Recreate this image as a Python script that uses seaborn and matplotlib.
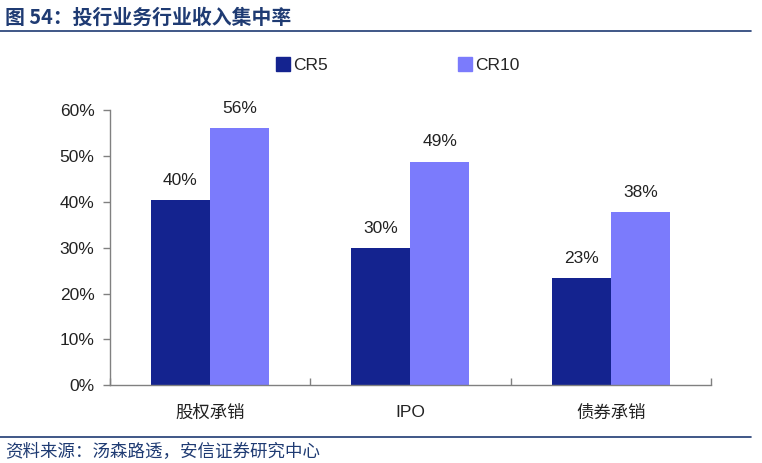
import pandas as pd
import matplotlib
matplotlib.use('Agg')
import matplotlib.pyplot as plt
import seaborn as sns
from matplotlib.ticker import FuncFormatter, FixedLocator
from matplotlib.lines import Line2D

# data
categories = ['股权承销', 'IPO', '债券承销']
series = ['CR5', 'CR10']
cr5 = [40.4, 29.9, 23.3]
cr10 = [56.1, 48.7, 37.7]
labels_cr5 = ['40%', '30%', '23%']
labels_cr10 = ['56%', '49%', '38%']

sns.set_style('white')
plt.rcParams['font.family'] = ['Liberation Sans', 'Noto Sans CJK SC', 'DejaVu Sans']

df = pd.DataFrame({
    'cat': categories * 2,
    'series': ['CR5'] * 3 + ['CR10'] * 3,
    'val': cr5 + cr10,
})

colors = {'CR5': '#14238F', 'CR10': '#7B7BFC'}
title_color = '#1F3B73'

fig = plt.figure(figsize=(7.62, 4.63), dpi=100)
ax = fig.add_axes([0.144, 0.168, 0.789, 0.594])

sns.barplot(data=df, x='cat', y='val', hue='series', hue_order=series,
            palette=colors, width=0.59, saturation=1, ax=ax, legend=False)
for p in ax.patches:
    p.set_edgecolor('none')

# value labels
for cont, labs in zip(ax.containers, [labels_cr5, labels_cr10]):
    ax.bar_label(cont, labels=labs, padding=9, fontsize=12.5, color='#222222')

ax.set_ylim(0, 60)
ax.set_xlim(-0.5, 2.5)
ax.set_yticks(range(0, 61, 10))
ax.yaxis.set_major_formatter(FuncFormatter(lambda v, _: f'{v:.0f}%'))
ax.set_xlabel('')
ax.set_ylabel('')

for s in ['top', 'right']:
    ax.spines[s].set_visible(False)
for s in ['left', 'bottom']:
    ax.spines[s].set_color('#808080')
    ax.spines[s].set_linewidth(1.0)

ax.tick_params(axis='y', direction='out', length=5, color='#808080', width=1.0,
               labelsize=12.5, labelcolor='#222222', left=True, pad=6)
ax.tick_params(axis='x', which='major', length=0, labelsize=12.5, labelcolor='#222222', pad=14)
ax.xaxis.set_minor_locator(FixedLocator([-0.5, 0.5, 1.5, 2.5]))
ax.tick_params(axis='x', which='minor', direction='in', length=5, color='#808080',
               width=1.0, bottom=True)

# legend
handles = [Line2D([0], [0], marker='s', linestyle='none', markersize=10,
                  markerfacecolor=colors[s], markeredgecolor=colors[s]) for s in series]
fig.legend(handles, series, loc='center', bbox_to_anchor=(0.521, 0.858), ncol=2,
           frameon=False, fontsize=12.5, handletextpad=0.1, columnspacing=7.4,
           handlelength=1.0)

# title and footer
fig.text(0.007, 0.962, '图 54：投行业务行业收入集中率', fontsize=14.3, fontweight='bold',
         color=title_color, va='center', ha='left',
         family=['Noto Sans CJK SC', 'DejaVu Sans'])
fig.add_artist(Line2D([0.0, 0.985], [0.932, 0.932], color=title_color, linewidth=1.2))
fig.add_artist(Line2D([0.0, 0.985], [0.056, 0.056], color=title_color, linewidth=1.2))
fig.text(0.007, 0.024, '资料来源：汤森路透，安信证券研究中心', fontsize=12.6,
         color=title_color, va='center', ha='left', style='italic',
         family=['Noto Sans CJK SC', 'DejaVu Sans'])

fig.savefig('out.png', dpi=100)
